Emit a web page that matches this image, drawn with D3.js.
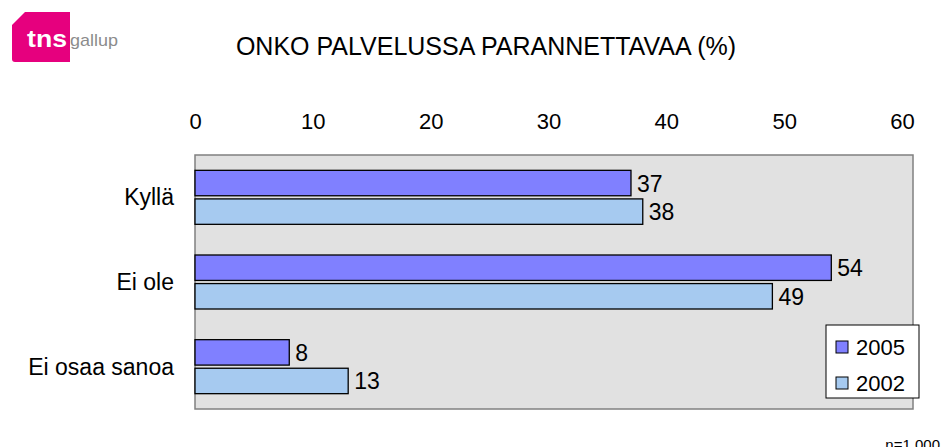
<!DOCTYPE html>
<html>
<head>
<meta charset="utf-8">
<script src="https://cdn.jsdelivr.net/npm/d3@7"></script>
<style>
  body { margin: 0; background: #fff; }
  svg { display: block; font-family: "Liberation Sans", Arial, sans-serif; }
</style>
</head>
<body>
<div class="chart"></div>
<script>
var categories = ["Kyllä", "Ei ole", "Ei osaa sanoa"];
var seriesNames = ["2005", "2002"];
var values2005 = [37, 54, 8];
var values2002 = [38, 49, 13];
var xTicks = [0, 10, 20, 30, 40, 50, 60];
var seriesColors = ["#8080ff", "#a6caf0"];

var width = 949,
    height = 447;

var plot = { left: 195, right: 913, top: 155, bottom: 409 };

var svg = d3.select(".chart").append("svg")
    .attr("width", width)
    .attr("height", height);

// logo
var logo = svg.append("g").attr("transform", "translate(12,12)");
logo.append("path")
    .attr("d", "M13,0 L58,0 L58,50 L3,50 Q0,50 0,47 L0,13 Z")
    .attr("fill", "#e6007e");
logo.append("text")
    .attr("x", 15).attr("y", 35)
    .attr("fill", "#fff")
    .attr("font-size", 24)
    .attr("font-weight", "bold")
    .attr("textLength", 40)
    .attr("lengthAdjust", "spacingAndGlyphs")
    .text("tns");
logo.append("text")
    .attr("x", 58).attr("y", 34)
    .attr("fill", "#8c8c8c")
    .attr("font-size", 17)
    .attr("textLength", 48)
    .attr("lengthAdjust", "spacingAndGlyphs")
    .text("gallup");

// title
svg.append("text")
    .attr("x", 486).attr("y", 55)
    .attr("text-anchor", "middle")
    .attr("font-size", 25)
    .attr("fill", "#000")
    .text("ONKO PALVELUSSA PARANNETTAVAA (%)");

var x = d3.scaleLinear()
    .domain([0, 60])
    .range([plot.left, 902]);

var y = d3.scaleBand()
    .domain(categories)
    .range([plot.top, plot.bottom]);

var y1 = d3.scaleBand()
    .domain(seriesNames)
    .range([y.bandwidth() / 2 - 27, y.bandwidth() / 2 + 27])
    .paddingInner(0.11);

svg.append("rect")
    .attr("x", plot.left).attr("y", plot.top)
    .attr("width", plot.right - plot.left)
    .attr("height", plot.bottom - plot.top)
    .attr("fill", "#e1e1e1")
    .attr("stroke", "#808080")
    .attr("stroke-width", 1.5);

// x axis on top
var xAxis = svg.append("g")
    .attr("transform", "translate(0,129)")
    .call(d3.axisTop(x).tickValues(xTicks).tickSize(0).tickPadding(0));
xAxis.select(".domain").remove();
xAxis.selectAll("text")
    .attr("dy", 0)
    .attr("font-size", 22)
    .attr("font-family", "Liberation Sans, Arial, sans-serif")
    .attr("fill", "#000");

// category labels
svg.selectAll(".cat")
    .data(categories)
    .enter().append("text")
    .attr("class", "cat")
    .attr("x", 174)
    .attr("y", function(d) { return y(d) + y.bandwidth() / 2; })
    .attr("dy", "0.35em")
    .attr("text-anchor", "end")
    .attr("font-size", 23)
    .text(function(d) { return d; });

var rows = categories.map(function(c, i) {
  return [
    { cat: c, series: "2005", value: values2005[i], color: seriesColors[0] },
    { cat: c, series: "2002", value: values2002[i], color: seriesColors[1] }
  ];
});

var groups = svg.selectAll(".grp")
    .data(rows)
    .enter().append("g")
    .attr("class", "grp")
    .attr("transform", function(d) { return "translate(0," + y(d[0].cat) + ")"; });

groups.selectAll("rect")
    .data(function(d) { return d; })
    .enter().append("rect")
    .attr("x", x(0))
    .attr("y", function(d) { return y1(d.series); })
    .attr("width", function(d) { return x(d.value) - x(0); })
    .attr("height", y1.bandwidth())
    .attr("fill", function(d) { return d.color; })
    .attr("stroke", "#000")
    .attr("stroke-width", 1.3);

groups.selectAll(".val")
    .data(function(d) { return d; })
    .enter().append("text")
    .attr("class", "val")
    .attr("x", function(d) { return x(d.value) + 6; })
    .attr("y", function(d) { return y1(d.series) + y1.bandwidth() / 2; })
    .attr("dy", "0.37em")
    .attr("font-size", 23)
    .text(function(d) { return d.value; });

// legend
var legend = svg.append("g").attr("transform", "translate(826,325)");
legend.append("rect")
    .attr("width", 93).attr("height", 73)
    .attr("fill", "#fff")
    .attr("stroke", "#000")
    .attr("stroke-width", 1);
seriesNames.forEach(function(s, i) {
  legend.append("rect")
      .attr("x", 10).attr("y", 16 + i * 36)
      .attr("width", 12).attr("height", 12)
      .attr("fill", seriesColors[i])
      .attr("stroke", "#000");
  legend.append("text")
      .attr("x", 30).attr("y", 22 + i * 36)
      .attr("dy", "0.36em")
      .attr("font-size", 22)
      .text(s);
});

svg.append("text")
    .attr("x", 940).attr("y", 450)
    .attr("text-anchor", "end")
    .attr("font-size", 15)
    .text("n=1,000");
</script>
</body>
</html>
